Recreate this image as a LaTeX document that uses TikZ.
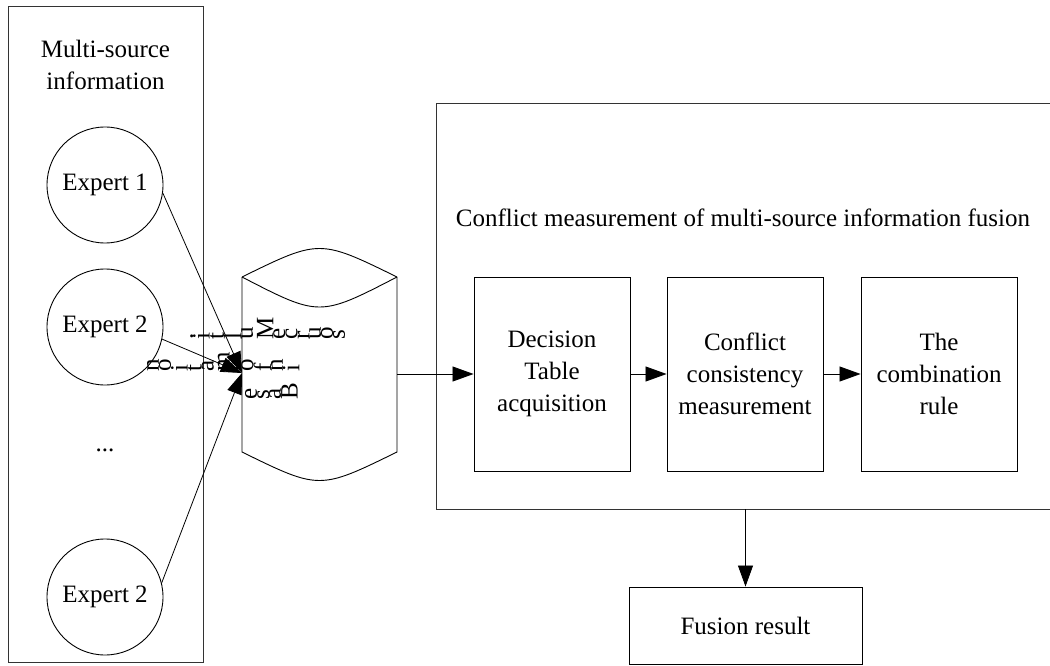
\documentclass[tikz,border=0pt]{standalone}
\usepackage{fontspec}
\setmainfont{Liberation Serif}
\usepackage{graphicx}
\usetikzlibrary{arrows.meta}
\newcommand{\rl}[1]{\rotatebox{90}{#1}}
\tikzset{
  frame/.style={draw, line width=0.9pt, black!80},
  expert/.style={draw, circle, line width=0.9pt, minimum size=116pt, inner sep=0pt},
  stepbox/.style={draw, line width=0.9pt, minimum width=156pt, minimum height=194pt, align=center, inner sep=0pt},
  label/.style={align=center, inner sep=0pt},
  flow/.style={line width=0.8pt, -{Triangle[length=21pt,width=15pt]}}
}
\begin{document}
\begin{tikzpicture}[x=1pt, y=-1pt, font=\fontsize{25}{32}\selectfont]
  \useasboundingbox (0,0) rectangle (1050,666);

  % multi-source information
  \draw[frame] (8,6) rectangle (203,662);
  \node[label] (srctitle) at (105.5,65) {Multi-source\\information};
  \node[expert] (e1) at (105,185) {Expert 1};
  \node[expert] (e2) at (105,327) {Expert 2};
  \node[label] (dots) at (105,450) {...};
  \node[expert] (e3) at (105,597) {Expert 2};

  % database
  \draw[line width=0.9pt] (242,277) -- (242,452) .. controls (319.5,490) .. (397,452) -- (397,277);
  \draw[line width=0.9pt] (242,277) .. controls (319.5,239) .. (397,277);
  \draw[line width=0.9pt] (242,277) .. controls (319.5,317) .. (397,277);
  \coordinate (dbin) at (242,373);
  \coordinate (dbout) at (397,374);

  % garbled base label
  \node[inner sep=0pt, anchor=south west] (dbrowa) at (190,340) {\rl{.}\rl{i}\rl{t}\rl{l}\rl{u}\hspace{4pt}\rl{M}\rl{e}\rl{c}\rl{r}\rl{u}\rl{o}\rl{s}};
  \node[inner sep=0pt, anchor=south west] (dbrowb) at (147,372) {\rl{n}\rl{o}\rl{i}\rl{t}\rl{a}\hspace{4pt}\rl{m}\rl{r}\rl{o}\rl{f}\rl{n}\rl{i}};
  \node[inner sep=0pt, anchor=south west] (dbrowc) at (245,400) {\rl{e}\rl{s}\rl{a}\rl{B}};

  \draw[flow] (e1.-8) -- (dbin);
  \draw[flow] (e2.-12) -- (dbin);
  \draw[flow] (e3.14) -- (dbin);

  % conflict measurement
  \draw[frame] (1050,103) -- (436,103) -- (436,509) -- (1050,509);
  \node[label] (ctitle) at (743,218) {Conflict measurement of multi-source information fusion};
  \node[stepbox] (s1) at (552,374) {Decision\\Table\\acquisition};
  \node[stepbox] (s2) at (745,374) {Conflict\\consistency\\measurement};
  \node[stepbox] (s3) at (939,374) {The\\combination\\rule};
  \coordinate (cout) at (745.5,509);

  \draw[flow] (dbout) -- (s1.west);
  \draw[flow] (s1) -- (s2);
  \draw[flow] (s2) -- (s3);

  % result
  \node[draw, line width=0.9pt, minimum width=233pt, minimum height=77pt] (res) at (745.5,625.5) {Fusion result};
  \draw[flow] (cout) -- (res.north);
\end{tikzpicture}
\end{document}
